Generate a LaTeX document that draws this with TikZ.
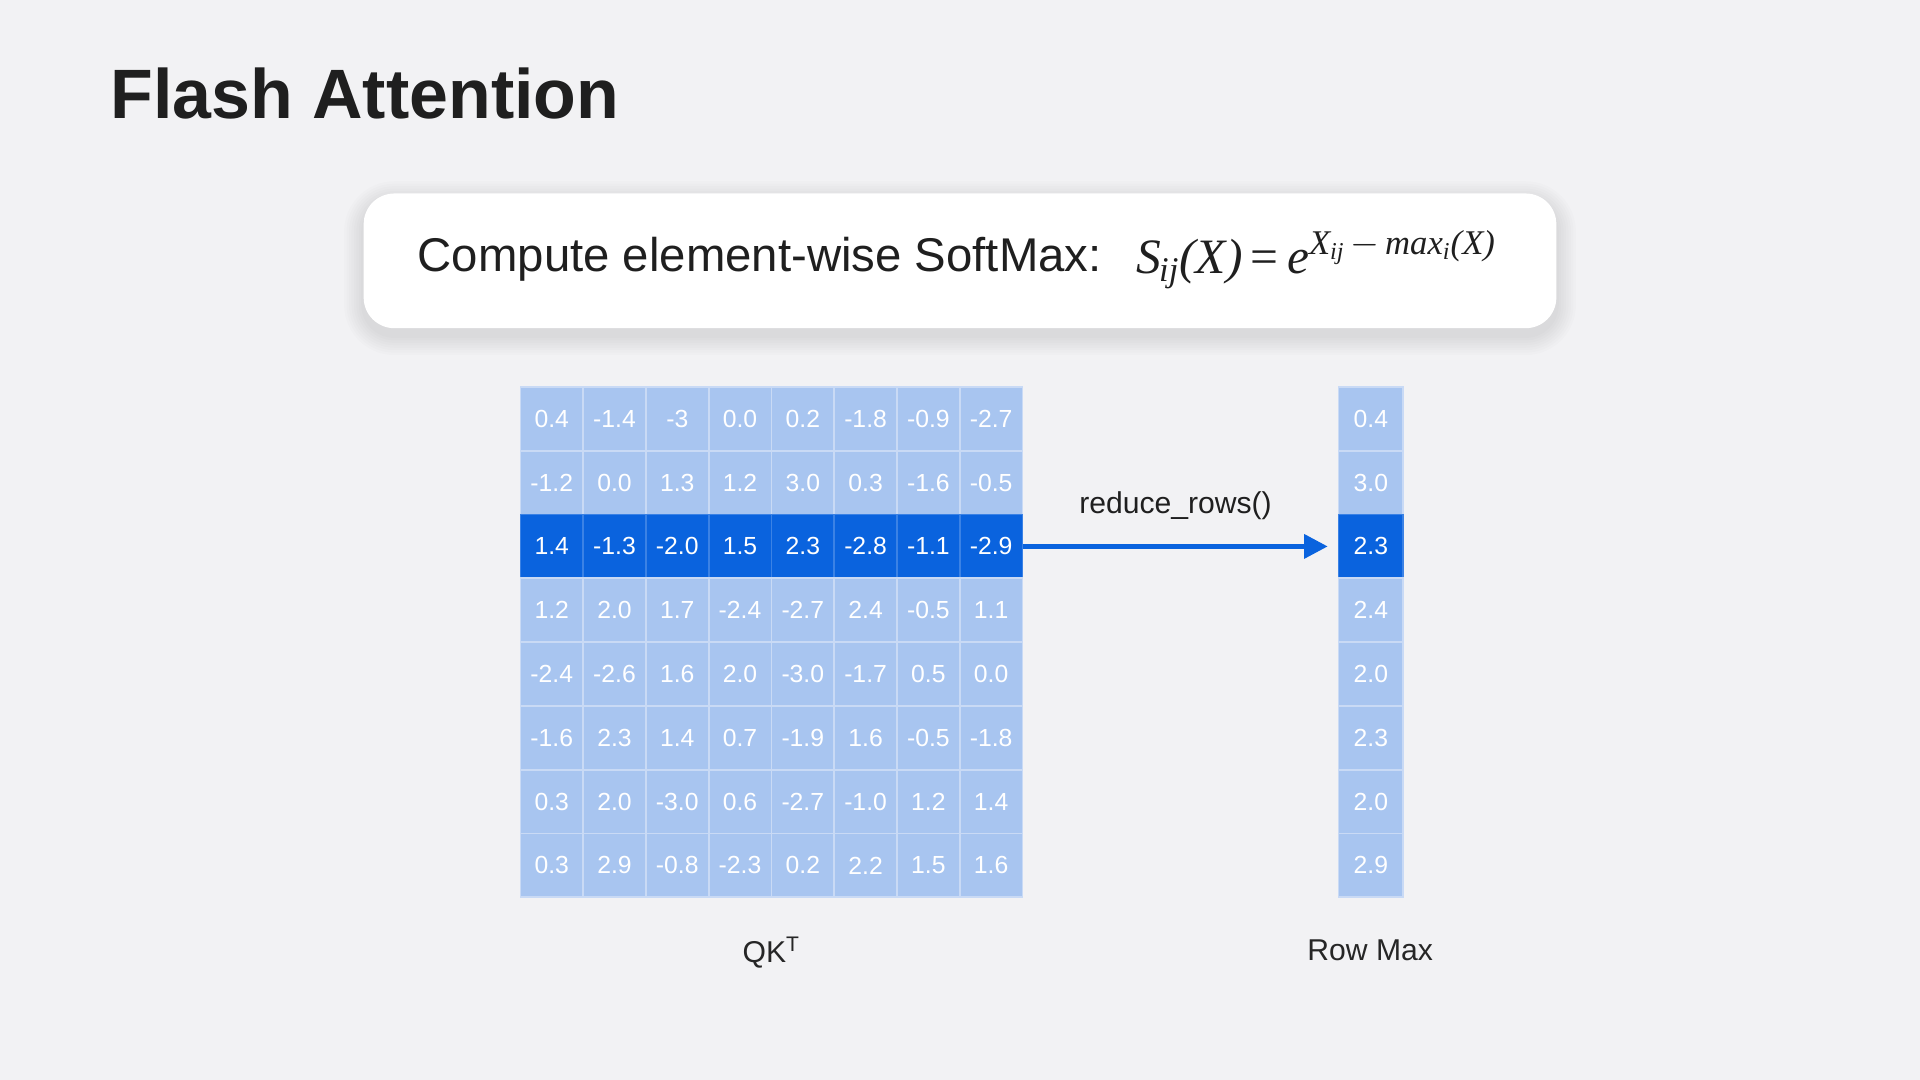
\documentclass[tikz,border=0pt]{standalone}
\usepackage{fontspec}
\setmainfont{Liberation Sans}
\newfontfamily\serifit{Liberation Serif}
\usetikzlibrary{arrows.meta}
\definecolor{bg}{HTML}{F2F2F4}
\definecolor{cell}{HTML}{A8C5F0}
\definecolor{hi}{HTML}{0A63DE}
\definecolor{grid}{HTML}{C9DAF5}
\begin{document}
\begin{tikzpicture}[x=0.02cm,y=-0.02cm,
  c/.style={draw=grid,line width=0.8pt,fill=cell,minimum width=51.25*0.02cm,minimum height=52.1*0.02cm,inner sep=0pt,text=white,font=\fontsize{11.5}{12}\selectfont},
  h/.style={c,fill=hi,draw=hi!80!white},
  lbl/.style={font=\fontsize{14}{15}\selectfont,text=black!85}]
\fill[bg] (0,0) rectangle (1568,882);
\useasboundingbox (0,0) rectangle (1568,882);
\node[anchor=base west,font=\fontsize{32.5}{34}\selectfont\bfseries,text=black!88] (title) at (84,97) {Flash Attention};
\foreach \s in {2,4,...,16}{
  \fill[black,opacity=0.012,rounded corners={(0.5cm+\s*0.02cm)}] ({297-\s},{158-\s+6}) rectangle ({1271+\s},{268+\s+6});
}
\node[draw=none,fill=white,rounded corners=0.5cm,minimum width=974*0.02cm,minimum height=110*0.02cm] (box) at (784,213) {};
\node[anchor=west,font=\fontsize{22}{24}\selectfont,text=black!88] (ftext) at (335,212) {Compute element-wise SoftMax:};
\node[anchor=west,font=\fontsize{23}{24}\selectfont\serifit\itshape,text=black!88] (form) at (922,212) {S\textsubscript{\kern-1pt ij}(X)\,{\upshape=}\,e\textsuperscript{X\textsubscript{ij}\,{\upshape$-$}\,max\textsubscript{i}(X)}};
\foreach \r/\line in {0/{0.4,-1.4,-3,0.0,0.2,-1.8,-0.9,-2.7},
1/{-1.2,0.0,1.3,1.2,3.0,0.3,-1.6,-0.5},
2/{1.4,-1.3,-2.0,1.5,2.3,-2.8,-1.1,-2.9},
3/{1.2,2.0,1.7,-2.4,-2.7,2.4,-0.5,1.1},
4/{-2.4,-2.6,1.6,2.0,-3.0,-1.7,0.5,0.0},
5/{-1.6,2.3,1.4,0.7,-1.9,1.6,-0.5,-1.8},
6/{0.3,2.0,-3.0,0.6,-2.7,-1.0,1.2,1.4},
7/{0.3,2.9,-0.8,-2.3,0.2,2.2,1.5,1.6}}{
  \foreach \v [count=\k from 0] in \line {
    \ifnum\r=2
      \node[h] (m-\r-\k) at ({425+51.25*(\k+0.5)},{316+52.1*(\r+0.5)}) {\v};
    \else
      \node[c] (m-\r-\k) at ({425+51.25*(\k+0.5)},{316+52.1*(\r+0.5)}) {\v};
    \fi
  }
}
\foreach \v [count=\r from 0] in {0.4,3.0,2.3,2.4,2.0,2.3,2.0,2.9}{
  \ifnum\r=2
    \node[h,minimum width=53*0.02cm] (rm-\r) at (1119.5,{316+52.1*(\r+0.5)}) {\v};
  \else
    \node[c,minimum width=53*0.02cm] (rm-\r) at (1119.5,{316+52.1*(\r+0.5)}) {\v};
  \fi
}
\draw[hi,line width=2.2pt,-{Triangle[length=11pt,width=11pt]}] (m-2-7.east) -- ([xshift=-0.16cm]rm-2.west) node[midway,above=8pt,lbl,text=black!88] (red) {reduce\_rows()};
\node[lbl] (qk) at (630,778) {QK\textsuperscript{T}};
\node[lbl] (rmx) at (1119,776) {Row Max};
\end{tikzpicture}
\end{document}
